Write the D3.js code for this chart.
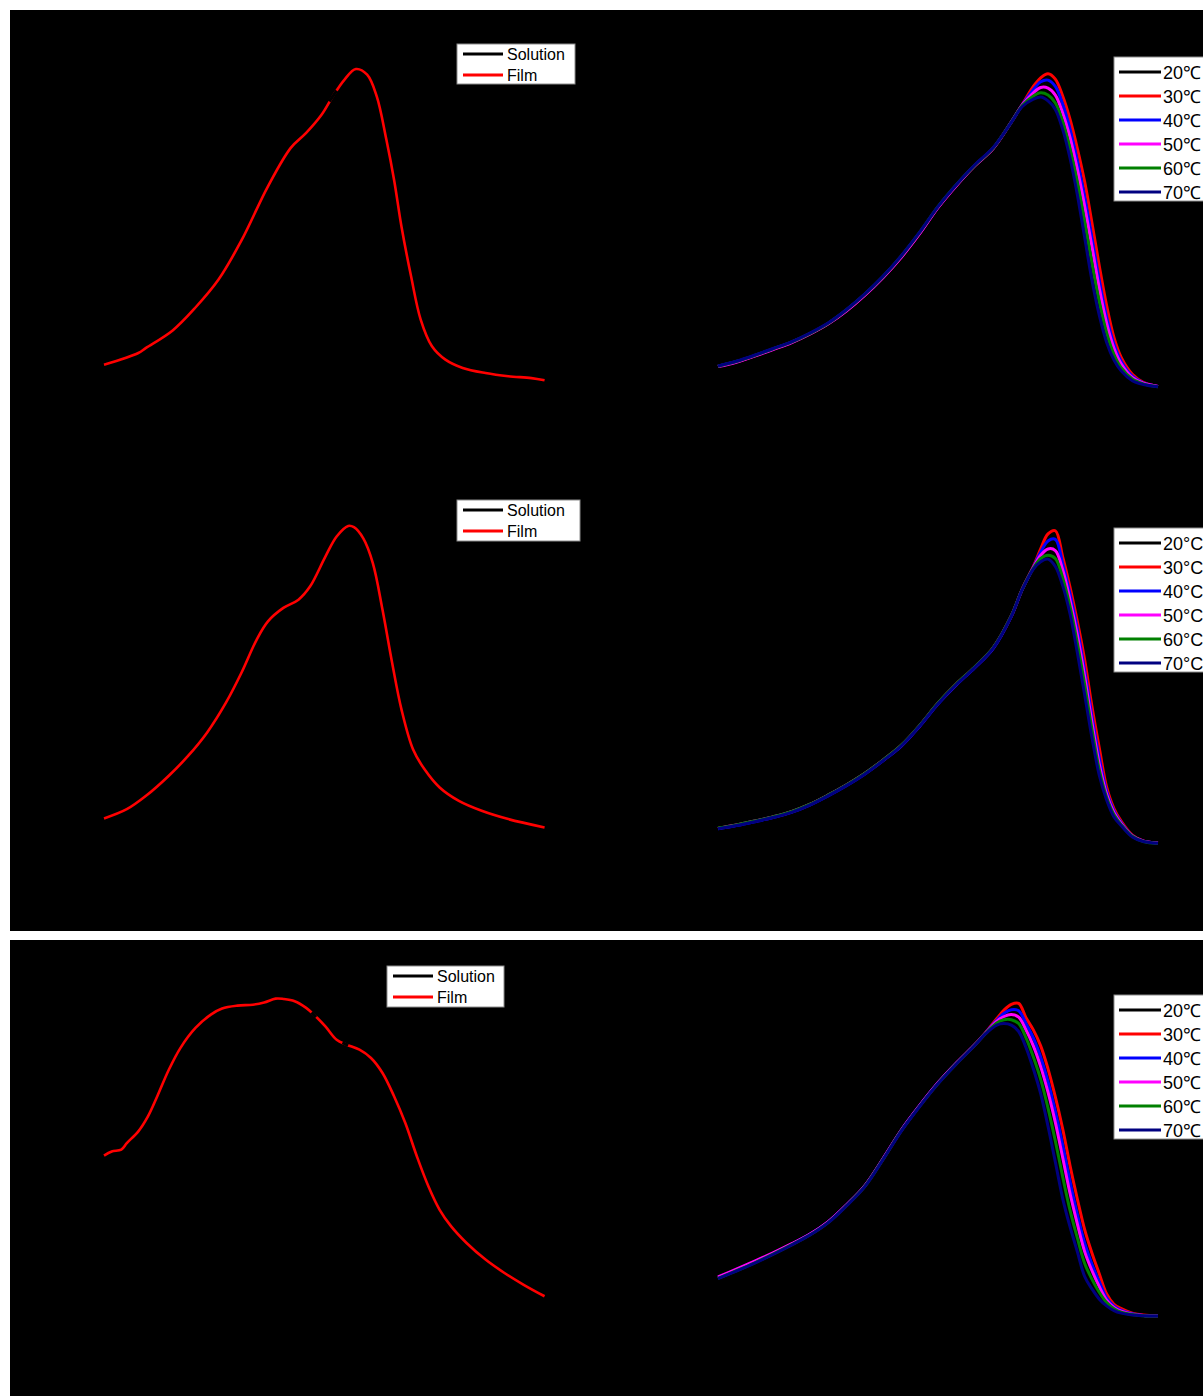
<!DOCTYPE html>
<html>
<head>
<meta charset="utf-8">
<script src="https://cdn.jsdelivr.net/npm/d3@7"></script>
<style>
  html, body { margin: 0; padding: 0; background: #ffffff; }
  svg { display: block; }
</style>
</head>
<body>
<svg id="chart" width="1203" height="1396"></svg>
<script>
// ---------------- DATA ----------------
const yTicks = [0.0, 0.2, 0.4, 0.6, 0.8, 1.0];
const xTicksLeft = [360, 390, 420, 450, 480, 510];
const xTicksRight = [360, 390, 420, 450, 480];
const filmLegend = ["Solution", "Film"];
const tempLegendA = ["20℃", "30℃", "40℃", "50℃", "60℃", "70℃"];
const tempLegendB = ["20°C", "30°C", "40°C", "50°C", "60°C", "70°C"];
const xTitles = ["Wavenelgth (nm)", "Wavelength (nm)", "Wavelength (nm)"];
const yTitle = "Normalised Absorbance (a.u.)";

// Left panels: film spectra (wavelength, value)
const film1Wl = [360, 372.5, 375.3, 385, 393.3, 401.7, 410, 419.7, 428, 433.6, 439.2, 443.3, 447.5, 451.7, 455.8, 459.3, 462.8, 465.6, 468.3, 471.8, 475.3, 479.4, 484.3, 490.6, 498.9, 507.2, 515.6, 520.4];
const film1Val = [0.070, 0.107, 0.123, 0.178, 0.250, 0.338, 0.460, 0.631, 0.752, 0.799, 0.856, 0.914, 0.966, 1.000, 0.982, 0.914, 0.778, 0.652, 0.505, 0.348, 0.212, 0.128, 0.086, 0.060, 0.044, 0.034, 0.028, 0.021];
const sol1Wl = [442.0, 443.3, 444.7];
const sol1Val = [0.898, 0.914, 0.932];

const film2Wl = [360, 368.3, 375.3, 383.6, 390.6, 397.5, 404.4, 410, 415.6, 419.7, 425.3, 430.8, 435, 440.6, 444.7, 448.9, 451, 454.4, 457.9, 461.4, 464.9, 468.3, 472.5, 476.7, 482.2, 489.2, 497.5, 507.2, 520.4];
const film2Val = [0.080, 0.109, 0.151, 0.214, 0.276, 0.349, 0.443, 0.536, 0.641, 0.698, 0.740, 0.766, 0.807, 0.901, 0.964, 0.997, 0.993, 0.958, 0.880, 0.734, 0.568, 0.422, 0.297, 0.234, 0.177, 0.135, 0.104, 0.078, 0.052];

const film3Wl = [360, 362.8, 366.3, 368.3, 372.5, 376, 379.4, 383.6, 387.8, 393.3, 398.9, 403, 408.6, 414.2, 418.3, 422.5, 425.3, 429.4, 433.6, 436.4, 440.6, 444.7, 448.2, 453, 457.2, 461.4, 465.6, 469.7, 473.9, 478.1, 482.2, 486.4, 492, 498.9, 505.8, 512.8, 520.4];
const film3Val = [0.506, 0.519, 0.525, 0.545, 0.582, 0.629, 0.692, 0.775, 0.843, 0.906, 0.948, 0.967, 0.976, 0.979, 0.986, 0.998, 0.997, 0.990, 0.969, 0.948, 0.911, 0.869, 0.854, 0.838, 0.812, 0.765, 0.692, 0.608, 0.504, 0.410, 0.336, 0.284, 0.232, 0.180, 0.138, 0.101, 0.065];
const sol3aWl = [435.6, 436.4, 437.2];
const sol3aVal = [0.955, 0.948, 0.940];
const sol3bWl = [446.8, 447.8, 448.9];
const sol3bVal = [0.860, 0.856, 0.852];

// Right panels: temperature series
const temp1Wl = [360, 365, 370, 375, 380, 385, 390, 395, 400, 405, 410, 415, 420, 425, 430, 435, 440, 443, 446, 448, 450, 452, 454, 456, 458, 460, 462, 464, 466, 468, 470, 473, 476, 480];
const t1_20 = [0.065, 0.079, 0.098, 0.119, 0.140, 0.167, 0.199, 0.241, 0.290, 0.346, 0.410, 0.484, 0.565, 0.634, 0.696, 0.750, 0.834, 0.890, 0.960, 0.990, 1.000, 0.985, 0.935, 0.862, 0.770, 0.660, 0.535, 0.400, 0.270, 0.170, 0.100, 0.044, 0.017, 0.003];
const t1_30 = [0.065, 0.079, 0.098, 0.119, 0.140, 0.167, 0.199, 0.240, 0.289, 0.345, 0.409, 0.483, 0.565, 0.634, 0.696, 0.750, 0.834, 0.889, 0.945, 0.972, 0.985, 0.968, 0.915, 0.842, 0.750, 0.645, 0.515, 0.380, 0.255, 0.155, 0.092, 0.040, 0.015, 0.002];
const t1_40 = [0.065, 0.080, 0.099, 0.120, 0.141, 0.168, 0.200, 0.242, 0.291, 0.347, 0.411, 0.485, 0.566, 0.635, 0.697, 0.751, 0.834, 0.888, 0.935, 0.960, 0.965, 0.945, 0.890, 0.812, 0.712, 0.597, 0.468, 0.335, 0.220, 0.135, 0.080, 0.034, 0.013, 0.002];
const t1_50 = [0.064, 0.078, 0.097, 0.118, 0.139, 0.166, 0.198, 0.239, 0.288, 0.344, 0.408, 0.482, 0.564, 0.633, 0.695, 0.749, 0.833, 0.887, 0.925, 0.942, 0.940, 0.918, 0.862, 0.785, 0.685, 0.568, 0.440, 0.310, 0.200, 0.122, 0.072, 0.030, 0.012, 0.002];
const t1_60 = [0.065, 0.080, 0.099, 0.120, 0.141, 0.168, 0.200, 0.242, 0.291, 0.347, 0.412, 0.486, 0.567, 0.636, 0.697, 0.751, 0.833, 0.885, 0.915, 0.925, 0.918, 0.893, 0.835, 0.750, 0.645, 0.520, 0.388, 0.268, 0.170, 0.102, 0.060, 0.025, 0.010, 0.001];
const t1_70 = [0.066, 0.081, 0.100, 0.121, 0.142, 0.169, 0.201, 0.243, 0.292, 0.348, 0.413, 0.487, 0.567, 0.636, 0.698, 0.752, 0.832, 0.882, 0.905, 0.912, 0.900, 0.873, 0.810, 0.720, 0.605, 0.470, 0.335, 0.225, 0.140, 0.085, 0.050, 0.020, 0.008, 0.001];

const temp2Wl = [360, 365, 370, 375, 380, 385, 390, 395, 400, 405, 410, 415, 420, 425, 430, 435, 440, 443, 446, 448, 450, 452, 454, 456, 458, 460, 462, 464, 466, 468, 470, 473, 476, 480];
const t2_20 = [0.049, 0.059, 0.071, 0.084, 0.100, 0.123, 0.152, 0.184, 0.220, 0.262, 0.308, 0.370, 0.440, 0.500, 0.553, 0.613, 0.715, 0.800, 0.872, 0.935, 0.985, 1.000, 0.915, 0.820, 0.710, 0.590, 0.440, 0.310, 0.185, 0.116, 0.074, 0.030, 0.011, 0.003];
const t2_30 = [0.049, 0.059, 0.071, 0.084, 0.100, 0.123, 0.152, 0.184, 0.220, 0.262, 0.309, 0.371, 0.441, 0.501, 0.554, 0.614, 0.715, 0.800, 0.870, 0.925, 0.972, 0.982, 0.900, 0.805, 0.698, 0.577, 0.430, 0.300, 0.178, 0.111, 0.071, 0.028, 0.010, 0.003];
const t2_40 = [0.048, 0.058, 0.070, 0.083, 0.099, 0.122, 0.151, 0.183, 0.219, 0.261, 0.307, 0.369, 0.439, 0.499, 0.552, 0.612, 0.714, 0.799, 0.868, 0.915, 0.950, 0.955, 0.880, 0.785, 0.675, 0.545, 0.400, 0.270, 0.165, 0.104, 0.066, 0.026, 0.009, 0.003];
const t2_50 = [0.049, 0.060, 0.072, 0.085, 0.101, 0.124, 0.153, 0.185, 0.221, 0.263, 0.309, 0.371, 0.441, 0.501, 0.554, 0.614, 0.715, 0.799, 0.866, 0.905, 0.925, 0.920, 0.860, 0.765, 0.655, 0.525, 0.380, 0.250, 0.155, 0.098, 0.063, 0.025, 0.009, 0.003];
const t2_60 = [0.050, 0.060, 0.072, 0.085, 0.101, 0.124, 0.153, 0.185, 0.221, 0.263, 0.310, 0.372, 0.442, 0.502, 0.555, 0.615, 0.716, 0.799, 0.864, 0.895, 0.905, 0.895, 0.835, 0.745, 0.630, 0.500, 0.358, 0.232, 0.146, 0.092, 0.060, 0.024, 0.008, 0.002];
const t2_70 = [0.048, 0.058, 0.070, 0.083, 0.099, 0.122, 0.151, 0.183, 0.219, 0.261, 0.308, 0.370, 0.440, 0.500, 0.553, 0.613, 0.714, 0.798, 0.862, 0.885, 0.893, 0.870, 0.810, 0.722, 0.600, 0.468, 0.333, 0.215, 0.138, 0.085, 0.057, 0.022, 0.008, 0.002];

const temp3Wl = [360, 365, 370, 375, 380, 385, 390, 395, 400, 405, 410, 415, 420, 425, 430, 433, 436, 438, 440, 442, 444, 446, 448, 450, 452, 454, 456, 458, 460, 462, 464, 466, 468, 470, 473, 476, 480];
const t3_20 = [0.122, 0.146, 0.171, 0.198, 0.227, 0.258, 0.297, 0.350, 0.410, 0.495, 0.585, 0.662, 0.733, 0.795, 0.853, 0.893, 0.942, 0.972, 0.992, 1.000, 0.955, 0.915, 0.865, 0.795, 0.708, 0.608, 0.492, 0.385, 0.287, 0.210, 0.142, 0.078, 0.044, 0.028, 0.013, 0.007, 0.004];
const t3_30 = [0.122, 0.146, 0.171, 0.198, 0.227, 0.258, 0.297, 0.350, 0.410, 0.495, 0.585, 0.662, 0.733, 0.795, 0.853, 0.892, 0.935, 0.962, 0.980, 0.983, 0.938, 0.900, 0.850, 0.778, 0.690, 0.590, 0.475, 0.370, 0.274, 0.200, 0.135, 0.072, 0.040, 0.026, 0.012, 0.006, 0.004];
const t3_40 = [0.123, 0.147, 0.172, 0.199, 0.228, 0.259, 0.298, 0.351, 0.411, 0.496, 0.586, 0.663, 0.734, 0.796, 0.853, 0.891, 0.930, 0.952, 0.963, 0.960, 0.920, 0.875, 0.815, 0.738, 0.645, 0.540, 0.425, 0.322, 0.232, 0.165, 0.110, 0.060, 0.034, 0.021, 0.010, 0.005, 0.004];
const t3_50 = [0.126, 0.150, 0.175, 0.201, 0.229, 0.259, 0.298, 0.351, 0.411, 0.496, 0.586, 0.663, 0.734, 0.796, 0.853, 0.890, 0.927, 0.942, 0.948, 0.940, 0.900, 0.850, 0.785, 0.705, 0.610, 0.500, 0.388, 0.292, 0.205, 0.145, 0.095, 0.053, 0.030, 0.018, 0.009, 0.005, 0.004];
const t3_60 = [0.121, 0.145, 0.170, 0.197, 0.226, 0.257, 0.296, 0.349, 0.409, 0.494, 0.584, 0.661, 0.732, 0.794, 0.852, 0.889, 0.922, 0.932, 0.932, 0.920, 0.875, 0.815, 0.745, 0.655, 0.552, 0.440, 0.335, 0.248, 0.168, 0.118, 0.077, 0.045, 0.026, 0.015, 0.008, 0.004, 0.003];
const t3_70 = [0.120, 0.144, 0.169, 0.196, 0.225, 0.256, 0.295, 0.348, 0.408, 0.493, 0.583, 0.660, 0.731, 0.793, 0.851, 0.888, 0.915, 0.920, 0.915, 0.895, 0.845, 0.778, 0.700, 0.598, 0.486, 0.372, 0.283, 0.205, 0.127, 0.088, 0.056, 0.035, 0.020, 0.012, 0.006, 0.004, 0.003];

// ---------------- DRAWING ----------------
const svg = d3.select("#chart");
const tempColors = ["#000000", "#ff0000", "#0000ff", "#ff00ff", "#008000", "#000080"];

// black panel backgrounds
svg.append("rect").attr("x", 10).attr("y", 10).attr("width", 1193).attr("height", 921).attr("fill", "#000");
svg.append("rect").attr("x", 10).attr("y", 940).attr("width", 1193).attr("height", 456).attr("fill", "#000");

const rows = [
  { top: 69, bottom: 387 },
  { top: 525, bottom: 844 },
  { top: 998, bottom: 1317 }
];

const textColor = "#000";
const FONT = "'Liberation Sans', Arial, sans-serif";

function toPts(wl, val) { return wl.map((w, i) => ({ x: w, y: val[i] })); }

function drawAxes(g, x, y, xTicks, row, titleX, yTitleX, xTitle) {
  const ya = d3.axisLeft(y).tickValues(yTicks).tickSize(0).tickPadding(0).tickFormat(d3.format(".1f"));
  const yg = g.append("g").attr("transform", `translate(${x.range()[0] - 12},0)`).call(ya);
  yg.select(".domain").remove();
  yg.selectAll("text").attr("fill", textColor).style("font-family", FONT).style("font-size", "14px");
  const xa = d3.axisBottom(x).tickValues(xTicks).tickSize(0).tickPadding(0).tickFormat(d3.format("d"));
  const xg = g.append("g").attr("transform", `translate(0,${row.bottom + 16})`).call(xa);
  xg.select(".domain").remove();
  xg.selectAll("text").attr("fill", textColor).style("font-family", FONT).style("font-size", "14px");
  g.append("text").attr("x", titleX).attr("y", row.bottom + 71).attr("text-anchor", "middle")
    .attr("fill", textColor).style("font-family", FONT).style("font-size", "26px").style("font-weight", "bold")
    .text(xTitle);
  const cy = (row.top + row.bottom) / 2 - 3;
  g.append("text").attr("transform", `translate(${yTitleX},${cy}) rotate(-90)`).attr("text-anchor", "middle")
    .attr("fill", textColor).style("font-family", FONT).style("font-size", "22px")
    .attr("textLength", 372).attr("lengthAdjust", "spacing")
    .text(yTitle);
}

function drawLeft(rowIdx, filmWl, filmVal, sols, legendBox) {
  const row = rows[rowIdx];
  const x = d3.scaleLinear().domain([360, 510]).range([104, 516]);
  const y = d3.scaleLinear().domain([0, 1]).range([row.bottom, row.top]);
  const g = svg.append("g");
  drawAxes(g, x, y, xTicksLeft, row, 325, 32, xTitles[rowIdx]);
  const line = d3.line().x(d => x(d.x)).y(d => y(d.y)).curve(d3.curveCatmullRom.alpha(0.5));
  g.append("path").datum(toPts(filmWl, filmVal)).attr("d", line)
    .attr("fill", "none").attr("stroke", "#ff0000").attr("stroke-width", 2.6);
  sols.forEach(s => {
    g.append("path").datum(toPts(s[0], s[1])).attr("d", line)
      .attr("fill", "none").attr("stroke", "#000000").attr("stroke-width", 3.2);
  });
  const lg = g.append("g");
  lg.append("rect").attr("x", legendBox.x).attr("y", legendBox.y).attr("width", legendBox.w).attr("height", legendBox.h)
    .attr("fill", "#fff").attr("stroke", "#8c8c8c").attr("stroke-width", 1);
  filmLegend.forEach((name, i) => {
    const ly = legendBox.y + 10 + i * 21;
    lg.append("line").attr("x1", legendBox.x + 6).attr("x2", legendBox.x + 46).attr("y1", ly).attr("y2", ly)
      .attr("stroke", i === 0 ? "#000" : "#ff0000").attr("stroke-width", 3);
    lg.append("text").attr("x", legendBox.x + 50).attr("y", ly + 6).attr("fill", "#000")
      .style("font-family", FONT).style("font-size", "16px").text(name);
  });
}

function drawRight(rowIdx, wl, seriesList, legendTop, labels) {
  const row = rows[rowIdx];
  const x = d3.scaleLinear().domain([360, 480]).range([718, 1158]);
  const y = d3.scaleLinear().domain([0, 1]).range([row.bottom, row.top]);
  const g = svg.append("g");
  drawAxes(g, x, y, xTicksRight, row, 938, 647, xTitles[rowIdx]);
  const line = d3.line().x(d => x(d.x)).y(d => y(d.y)).curve(d3.curveCatmullRom.alpha(0.5));
  seriesList.forEach((vals, i) => {
    g.append("path").datum(toPts(wl, vals)).attr("d", line)
      .attr("fill", "none").attr("stroke", tempColors[i]).attr("stroke-width", 3);
  });
  const lg = g.append("g");
  lg.append("rect").attr("x", 1114).attr("y", legendTop).attr("width", 100).attr("height", 144)
    .attr("fill", "#fff").attr("stroke", "#8c8c8c").attr("stroke-width", 1);
  labels.forEach((name, i) => {
    const ly = legendTop + 15 + i * 24;
    lg.append("line").attr("x1", 1119).attr("x2", 1161).attr("y1", ly).attr("y2", ly)
      .attr("stroke", tempColors[i]).attr("stroke-width", 3);
    lg.append("text").attr("x", 1163).attr("y", ly + 7).attr("fill", "#000")
      .style("font-family", FONT).style("font-size", "18px").text(name);
  });
}

drawLeft(0, film1Wl, film1Val, [[sol1Wl, sol1Val]], { x: 457, y: 44, w: 118, h: 40 });
drawLeft(1, film2Wl, film2Val, [], { x: 457, y: 500, w: 123, h: 41 });
drawLeft(2, film3Wl, film3Val, [[sol3aWl, sol3aVal], [sol3bWl, sol3bVal]], { x: 387, y: 966, w: 117, h: 41 });

drawRight(0, temp1Wl, [t1_20, t1_30, t1_40, t1_50, t1_60, t1_70], 57, tempLegendA);
drawRight(1, temp2Wl, [t2_20, t2_30, t2_40, t2_50, t2_60, t2_70], 528, tempLegendB);
drawRight(2, temp3Wl, [t3_20, t3_30, t3_40, t3_50, t3_60, t3_70], 995, tempLegendA);
</script>
</body>
</html>
